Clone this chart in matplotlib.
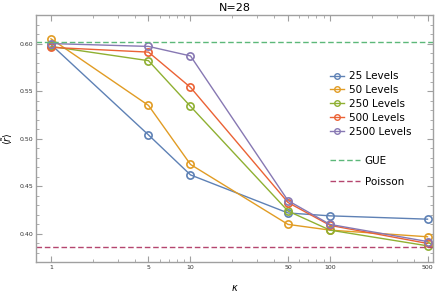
import numpy as np
import matplotlib
matplotlib.use('Agg')
import matplotlib.pyplot as plt
from matplotlib.ticker import FixedLocator, FixedFormatter, MultipleLocator

kappa = [1, 5, 10, 50, 100, 500]
labels = ['25 Levels', '50 Levels', '250 Levels', '500 Levels', '2500 Levels']
r_25 = [0.599, 0.504, 0.462, 0.422, 0.419, 0.4155]
r_50 = [0.605, 0.535, 0.473, 0.410, 0.404, 0.397]
r_250 = [0.597, 0.582, 0.534, 0.424, 0.404, 0.3875]
r_500 = [0.596, 0.591, 0.554, 0.433, 0.409, 0.390]
r_2500 = [0.600, 0.597, 0.587, 0.435, 0.410, 0.392]
gue = 0.6021
poisson = 0.3864
colors = ['#5E81B5', '#E19C24', '#8FB032', '#EB6235', '#8778B3']

fig = plt.figure(figsize=(4.36, 2.93), dpi=100)
ax = fig.add_axes([0.0826, 0.1058, 0.9104, 0.843])

series = [r_25, r_50, r_250, r_500, r_2500]
handles = []
for vals, lab, c in zip(series, labels, colors):
    h, = ax.plot(kappa, vals, '-o', color=c, lw=1.0, ms=5.2, mfc='none',
                 mew=1.2, label=lab)
    handles.append(h)
g = ax.axhline(gue, color='#5CB87A', lw=1.0, ls=(0, (4, 2)))
p = ax.axhline(poisson, color='#B5466F', lw=1.0, ls=(0, (4, 2)))

ax.set_xscale('log')
ax.set_xlim(0.781, 547)
ax.set_ylim(0.3705, 0.630)

major_x = [1, 5, 10, 50, 100, 500]
minor_x = [2, 3, 4, 6, 7, 8, 9, 20, 30, 40, 60, 70, 80, 90, 200, 300, 400]
ax.xaxis.set_major_locator(FixedLocator(major_x))
ax.xaxis.set_major_formatter(FixedFormatter([str(v) for v in major_x]))
ax.xaxis.set_minor_locator(FixedLocator(minor_x))
ax.xaxis.set_minor_formatter(FixedFormatter([''] * len(minor_x)))
ax.yaxis.set_major_locator(MultipleLocator(0.05))
ax.yaxis.set_minor_locator(MultipleLocator(0.01))
ax.yaxis.set_major_formatter(plt.FuncFormatter(lambda v, _: '%.2f' % v))

for s in ax.spines.values():
    s.set_color('#A0A0A0')
    s.set_linewidth(1.0)
ax.tick_params(which='both', direction='in', top=True, right=True,
               color='#A0A0A0', labelsize=4.5, labelcolor='#333333', pad=2)
ax.tick_params(which='major', length=4, width=0.8)
ax.tick_params(which='minor', length=2, width=0.6)

ax.set_title('N=28', fontsize=8, pad=3)
ax.set_xlabel(r'$\kappa$', fontsize=7)
ax.xaxis.set_label_coords(0.5, -0.085)
ax.set_ylabel(r'$\langle\tilde{r}\rangle$', fontsize=7)
ax.yaxis.set_label_coords(-0.053, 0.5)

leg1 = ax.legend(handles=handles, loc='upper left', bbox_to_anchor=(0.758, 0.757),
                 bbox_transform=fig.transFigure, frameon=False, fontsize=7.5,
                 handlelength=1.25, handletextpad=0.55, labelspacing=0.37,
                 borderaxespad=0, borderpad=0)
for lh in leg1.legend_handles:
    lh.set_markersize(4)
    lh.set_markeredgewidth(1.0)
ax.add_artist(leg1)
ax.legend(handles=[g, p], labels=['GUE', 'Poisson'], loc='upper left',
          bbox_to_anchor=(0.758, 0.468), bbox_transform=fig.transFigure,
          frameon=False, fontsize=7.5, handlelength=2.8, handletextpad=0.5,
          labelspacing=1.08, borderaxespad=0, borderpad=0)

fig.savefig('out.png', dpi=100)
